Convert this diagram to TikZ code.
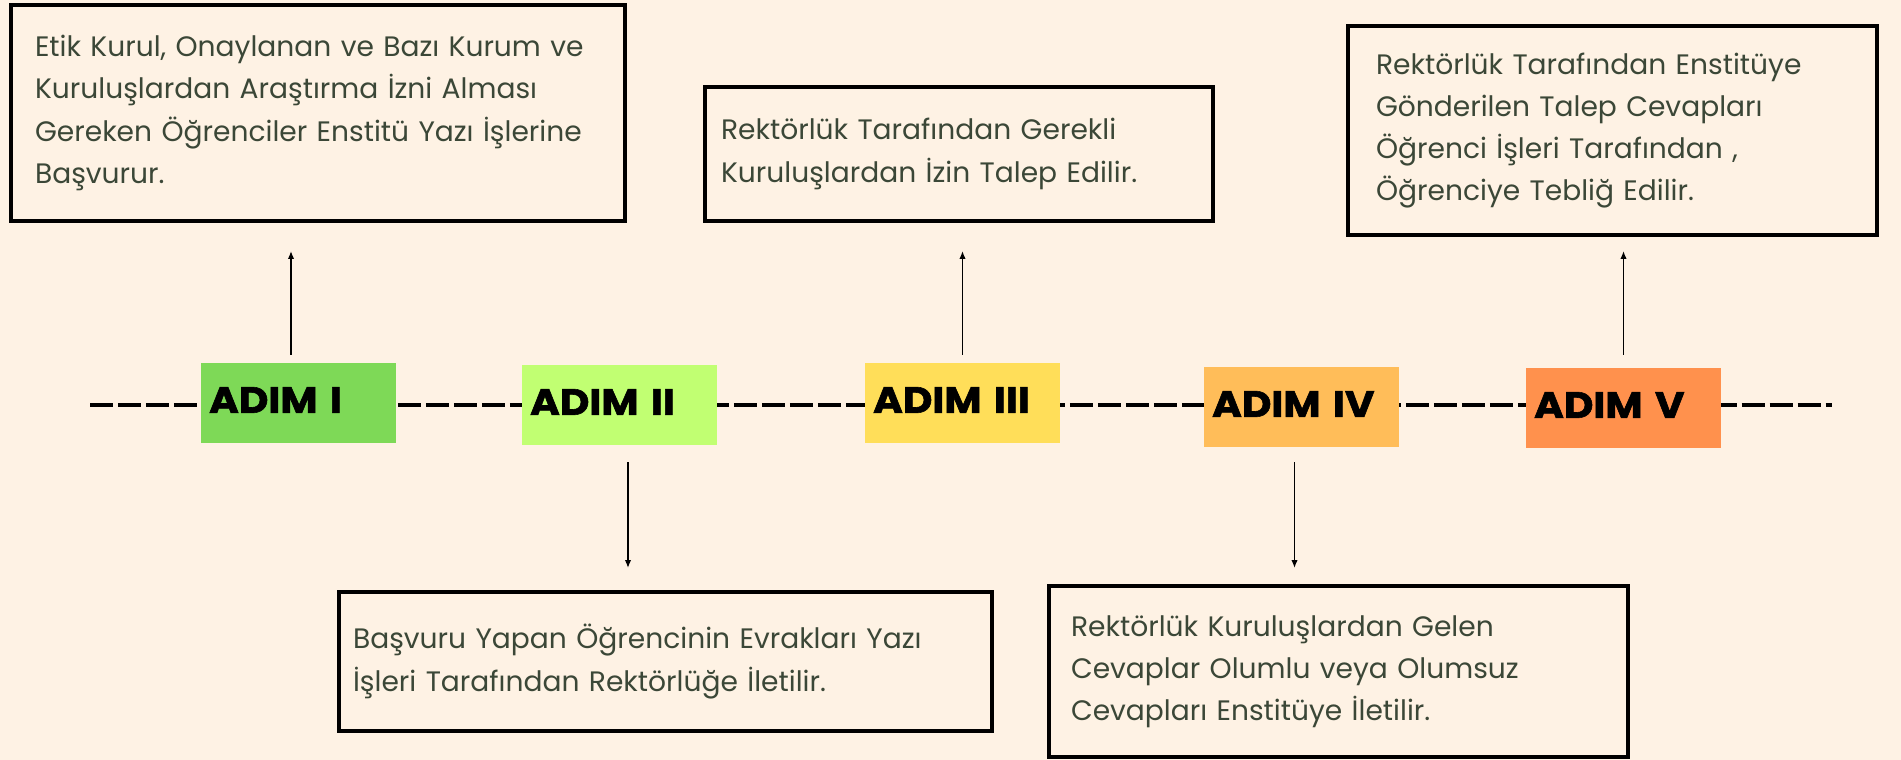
\documentclass[tikz,border=0pt]{standalone}
\usepackage{fontspec}
\setmainfont{Poppins}
\newfontfamily\stepfont{Poppins}[FakeStretch=1.1,FakeBold=1.6]
\usetikzlibrary{arrows.meta}
\definecolor{paper}{HTML}{FEF2E4}
\definecolor{inktext}{HTML}{3B4737}
\definecolor{adimone}{HTML}{7ED957}
\definecolor{adimtwo}{HTML}{C1FF72}
\definecolor{adimthree}{HTML}{FFDE59}
\definecolor{adimfour}{HTML}{FFBD59}
\definecolor{adimfive}{HTML}{FF914D}

\begin{document}
\begin{tikzpicture}[x=0.02cm, y=-0.02cm,
  adim/.style={rectangle, minimum width=3.9cm, minimum height=1.6cm,
    text width=3.58cm, text depth=0.12cm, align=left, text=black,
    font=\stepfont\bfseries\fontsize{21}{24}\selectfont},
  info/.style={rectangle, draw=black, line width=0.08cm, fill=paper,
    align=left, text=inktext, font=\fontsize{16}{24}\selectfont},
  linkarrow/.style={-{Latex[length=0.16cm,width=0.13cm]}, line width=0.03cm},
  dashline/.style={line width=0.08cm, dash pattern=on 0.46cm off 0.1cm}
]

\fill[paper] (0,0) rectangle (1901,760);
\useasboundingbox (0,0) rectangle (1901,760);

\coordinate (lead) at (90,405);
\coordinate (tail) at (1832,405);
\draw[dashline] (lead) -- (tail);

\node[adim, fill=adimone] (s1) at (298.5,403) {ADIM I};
\node[adim, fill=adimtwo] (s2) at (619.5,405) {ADIM II};
\node[adim, fill=adimthree] (s3) at (962.5,403) {ADIM III};
\node[adim, fill=adimfour] (s4) at (1301.5,407) {ADIM IV};
\node[adim, fill=adimfive] (s5) at (1623.5,408) {ADIM V};

\node[info, minimum width=12.28cm, minimum height=4.32cm, text width=11.32cm]
  (b1) at (318,113) {Etik Kurul, Onaylanan ve Bazı Kurum ve\\
  Kuruluşlardan Araştırma İzni Alması\\
  Gereken Öğrenciler Enstitü Yazı İşlerine\\
  Başvurur.};
\node[info, minimum width=13.06cm, minimum height=2.78cm, text width=12.5cm]
  (b2) at (665.5,661.5) {Başvuru Yapan Öğrencinin Evrakları Yazı\\
  İşleri Tarafından Rektörlüğe İletilir.};
\node[info, minimum width=10.16cm, minimum height=2.68cm, text width=9.52cm]
  (b3) at (959,154) {Rektörlük Tarafından Gerekli\\
  Kuruluşlardan İzin Talep Edilir.};
\node[info, minimum width=11.58cm, minimum height=3.42cm, text width=10.7cm]
  (b4) at (1338.5,671.5) {Rektörlük Kuruluşlardan Gelen\\
  Cevaplar Olumlu veya Olumsuz\\
  Cevapları Enstitüye İletilir.};
\node[info, minimum width=10.58cm, minimum height=4.18cm, text width=9.46cm]
  (b5) at (1612.5,130.5) {Rektörlük Tarafından Enstitüye\\
  Gönderilen Talep Cevapları\\
  Öğrenci İşleri Tarafından ,\\
  Öğrenciye Tebliğ Edilir.};

\draw[linkarrow, shorten <=0.16cm, shorten >=0.56cm]
  ([xshift=-0.15cm]s1.north) -- ([xshift=-0.15cm]s1.north |- b1.south);
\draw[linkarrow, shorten <=0.34cm, shorten >=0.44cm]
  ([xshift=0.17cm]s2.south) -- ([xshift=0.17cm]s2.south |- b2.north);
\draw[linkarrow, shorten <=0.16cm, shorten >=0.56cm]
  (s3.north) -- (s3.north |- b3.south);
\draw[linkarrow, shorten <=0.3cm, shorten >=0.32cm]
  ([xshift=-0.14cm]s4.south) -- ([xshift=-0.14cm]s4.south |- b4.north);
\draw[linkarrow, shorten <=0.26cm, shorten >=0.28cm]
  (s5.north) -- (s5.north |- b5.south);

\end{tikzpicture}
\end{document}
